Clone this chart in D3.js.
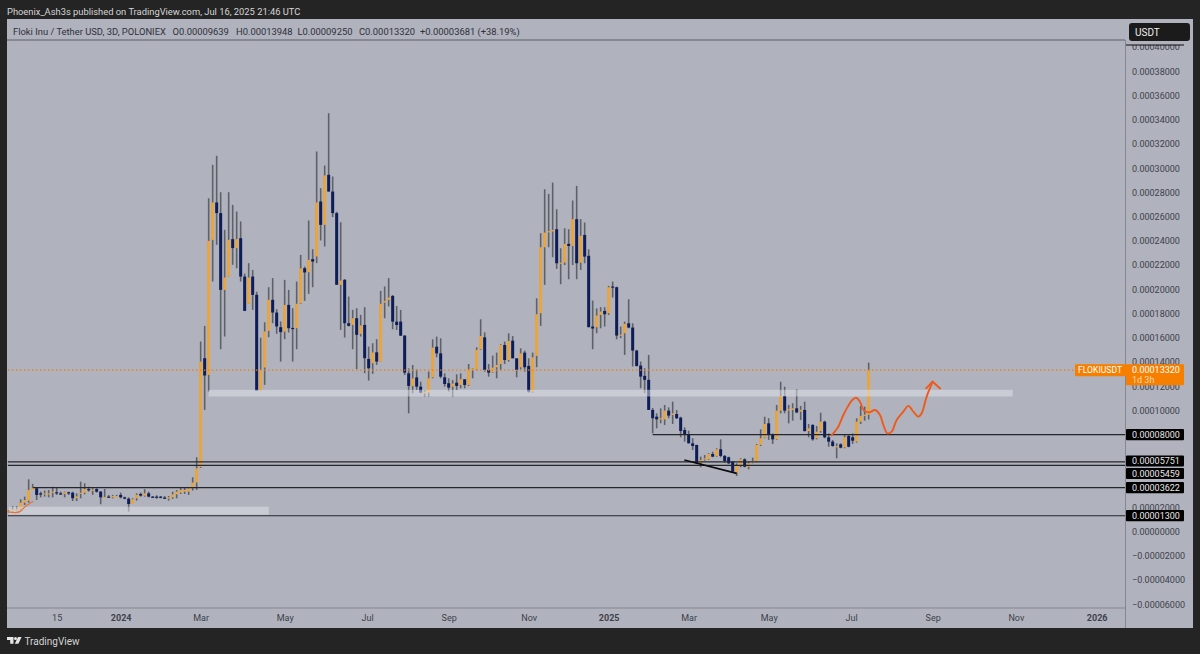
<!DOCTYPE html>
<html>
<head>
<meta charset="utf-8">
<script src="https://cdn.jsdelivr.net/npm/d3@7"></script>
<style>
  html, body { margin: 0; padding: 0; background: #242424; }
  svg { display: block; }
  text { font-family: Roboto, "Liberation Sans", Arial, sans-serif; }
</style>
</head>
<body>
<div id="chart"></div>
<script>
// prices are in units of 0.00001 USDT, one entry per 3D bar
var opens = [
  1.64,1.67,1.72,1.83,2.38,2.55,3.43,3.57,3.15,3.10,
  3.12,3.24,3.24,3.15,3.10,3.24,3.20,2.75,3.15,3.20,
  3.50,3.43,3.50,3.29,2.82,2.88,2.82,2.88,3.02,2.82,
  2.71,2.27,2.74,3.10,2.96,3.15,2.88,2.88,2.88,2.80,
  2.71,2.82,3.07,3.21,3.29,3.29,3.65,4.04,5.33,14.31,
  12.93,24.08,27.17,26.29,19.95,21.05,24.14,23.40,24.22,21.05,
  18.80,21.05,19.54,11.64,13.54,16.57,19.13,18.08,16.87,16.51,
  18.71,16.81,16.79,18.85,21.74,21.41,22.49,22.71,27.25,25.32,
  29.45,28.07,26.29,20.37,20.78,17.20,17.06,17.61,16.32,17.06,
  14.25,13.90,14.80,14.03,18.90,19.13,19.45,17.33,17.33,16.17,
  13.06,12.02,12.72,11.96,11.41,11.47,12.73,15.26,14.71,12.73,
  12.24,11.96,12.29,12.10,12.57,12.10,13.34,13.39,15.04,16.03,
  13.34,13.17,13.56,13.83,15.40,14.16,15.76,14.30,13.56,14.77,
  13.67,11.55,14.50,18.02,23.47,24.70,24.77,24.96,22.15,22.20,
  23.75,23.58,25.79,22.20,24.49,22.76,16.92,16.87,17.88,18.21,
  18.02,20.23,20.17,16.20,16.37,17.19,16.84,14.94,13.70,12.85,
  12.52,10.04,9.48,9.30,9.26,9.98,9.62,9.70,9.40,8.38,
  8.05,7.28,7.15,5.68,5.95,5.96,6.40,6.24,6.79,6.24,
  6.13,5.77,4.86,5.41,5.96,5.35,5.68,5.77,7.15,7.75,
  8.93,7.97,7.61,9.98,11.19,10.08,10.04,10.17,9.90,10.04,
  8.30,8.79,7.70,8.30,9.07,7.78,7.42,7.00,7.20,6.95,
  7.89,7.78,7.42,9.07,9.54,9.64
];
var closes = [
  1.72,1.83,1.83,2.38,2.60,3.43,3.65,3.02,3.07,3.15,
  3.15,3.29,3.15,3.10,3.24,3.15,2.75,2.90,3.20,3.50,
  3.40,3.46,3.29,2.82,2.85,2.82,2.93,2.93,2.82,2.71,
  2.27,2.66,3.02,2.96,3.15,2.88,2.82,2.82,2.80,2.77,
  2.82,3.07,3.29,3.43,3.43,3.57,4.04,5.22,14.03,12.88,
  24.00,27.17,26.29,19.95,20.97,24.08,23.40,24.14,21.05,18.22,
  20.97,19.54,11.64,13.35,16.51,19.13,18.08,16.93,16.46,18.71,
  16.79,16.76,18.80,21.72,21.39,22.43,22.29,27.17,25.32,29.40,
  28.07,26.29,20.37,20.72,17.20,16.98,17.61,16.24,17.01,14.31,
  13.48,14.78,14.03,18.80,19.04,19.32,17.33,17.05,16.17,13.12,
  12.02,12.65,11.96,11.47,11.55,12.65,15.18,14.71,12.79,12.18,
  11.88,12.21,12.02,12.57,12.10,13.39,13.47,14.99,16.14,13.34,
  13.12,13.53,13.75,15.40,14.16,15.73,14.30,13.34,14.71,13.56,
  11.55,14.38,17.94,23.47,24.68,24.80,24.90,22.15,22.20,23.75,
  23.58,25.79,22.15,24.41,22.70,16.87,16.76,17.83,18.16,17.94,
  20.17,20.14,16.18,16.25,17.14,16.84,14.94,13.67,12.79,12.52,
  10.04,9.35,9.26,9.35,9.98,9.57,9.75,9.35,8.30,7.97,
  7.28,7.06,5.63,5.90,6.05,6.40,6.18,6.79,6.24,5.82,
  5.63,4.94,5.41,5.96,5.35,5.63,5.82,7.15,7.70,8.88,
  7.97,7.61,9.98,11.19,9.98,10.10,10.17,9.84,10.04,8.30,
  8.52,7.61,8.24,9.07,7.78,7.42,7.06,7.05,6.92,7.78,
  7.00,7.50,9.07,9.54,9.64,13.32
];
var highs = [
  1.78,2.11,2.11,2.66,2.88,4.31,3.93,3.65,3.29,3.38,
  3.43,3.70,3.65,3.29,3.29,3.29,3.29,3.15,4.12,3.98,
  3.70,3.57,3.57,3.35,3.51,3.02,3.02,3.02,3.21,2.88,
  2.82,2.74,3.15,3.21,3.49,3.29,2.93,2.99,2.93,2.93,
  2.93,3.29,3.43,3.65,3.65,3.65,4.48,6.13,15.69,16.98,
  27.52,30.28,31.02,28.02,24.91,28.02,26.97,26.42,25.60,21.30,
  22.16,21.60,19.80,16.00,17.28,20.17,20.92,18.36,17.34,20.78,
  19.95,18.44,20.64,22.84,21.88,25.68,23.31,31.38,28.35,30.22,
  34.54,29.31,26.40,25.54,20.85,19.40,18.30,18.44,17.89,18.52,
  15.27,15.55,15.88,19.87,20.23,20.92,19.53,18.62,18.30,16.23,
  13.47,13.75,13.39,12.37,11.68,13.20,15.87,16.09,15.95,13.06,
  12.65,12.51,12.98,13.06,12.57,13.83,13.50,15.21,17.52,16.45,
  13.83,14.52,14.77,15.46,15.68,16.37,16.14,14.30,15.13,14.93,
  14.30,14.77,19.26,24.63,28.26,27.88,28.81,26.61,23.39,25.04,
  24.96,27.33,28.54,25.79,25.51,23.30,19.07,18.43,18.52,18.52,
  20.28,20.64,20.22,16.92,17.33,19.18,17.19,15.00,14.03,13.48,
  14.58,10.20,9.76,10.17,10.45,10.25,10.72,10.03,9.48,8.60,
  8.33,7.70,7.15,6.18,6.32,6.46,6.59,6.87,7.61,6.32,
  6.18,5.77,5.63,6.04,6.04,5.77,6.10,7.23,8.44,9.48,
  9.35,8.10,10.45,12.37,11.96,10.45,10.59,11.74,10.37,10.72,
  8.88,8.88,8.71,9.81,9.15,8.10,7.56,7.28,7.28,7.97,
  7.97,8.10,9.35,10.37,10.31,13.948
];
var lows = [
  1.56,1.64,1.72,1.70,2.19,2.38,3.43,2.60,2.82,2.88,
  2.82,2.82,3.02,3.02,2.82,3.02,2.52,2.52,2.74,3.07,
  3.29,3.02,3.21,2.25,2.82,2.82,2.74,2.88,2.74,2.66,
  1.64,2.27,2.55,2.88,2.88,2.82,2.77,2.71,2.74,2.71,
  2.55,2.69,2.74,3.10,3.10,3.02,3.38,3.43,5.25,10.04,
  11.56,20.64,23.67,15.05,16.10,21.05,22.02,21.74,20.64,18.20,
  18.80,18.30,11.64,11.64,12.11,16.04,17.20,16.32,14.03,15.88,
  16.43,14.03,15.05,18.80,19.04,19.62,20.17,22.16,24.03,23.53,
  28.07,25.96,20.37,16.65,16.02,16.93,15.05,13.40,16.10,13.07,
  12.46,13.02,13.76,14.03,17.61,18.58,16.70,16.64,16.15,12.92,
  9.76,11.41,11.68,11.41,11.13,11.13,12.65,14.38,12.65,11.96,
  11.55,11.13,11.68,11.82,11.82,12.02,12.65,13.34,14.99,13.20,
  12.79,13.12,12.65,13.34,13.83,14.03,14.30,12.73,13.39,13.20,
  11.47,11.47,13.56,16.98,20.36,23.47,22.65,21.68,20.42,22.00,
  20.83,22.00,20.83,21.60,22.15,16.87,15.05,16.37,16.78,16.92,
  17.88,19.32,15.87,15.96,14.58,16.78,13.62,13.62,11.83,11.42,
  10.04,8.10,8.52,8.93,8.80,9.35,8.88,9.29,7.78,7.42,
  7.28,6.73,5.63,5.30,5.85,5.90,6.13,6.18,6.13,5.68,
  5.57,4.86,4.58,5.30,5.30,5.13,5.63,5.71,7.06,7.70,
  7.56,7.23,7.56,9.76,9.76,8.93,9.15,9.76,9.20,8.24,
  7.78,7.50,7.61,8.16,7.70,7.00,7.00,6.04,6.87,6.87,
  6.95,7.23,7.34,8.88,9.15,9.25
];

// axis ticks (8, 6 and 4 sit behind the level tags, so they are left out)
var xTickBars = [12, 28, 48, 69, 89.6, 110, 130, 150, 170, 190, 210.6, 231, 251.8, 272];
var xTickLabels = ["15", "2024", "Mar", "May", "Jul", "Sep", "Nov", "2025", "Mar", "May", "Jul", "Sep", "Nov", "2026"];
var yTicks = [40, 38, 36, 34, 32, 30, 28, 26, 24, 22, 20, 18, 16, 14, 12, 10, 2, 0, -2, -4, -6];

// drawings: [bar, price]
var projectionPath = [[205.58,7.89],[207.17,8.52],[208.67,9.62],[209.67,10.25],[210.75,10.8],[211.83,11.05],
  [212.83,10.72],[213.83,9.98],[215.17,9.84],[216.58,10.03],[217.83,9.62],[218.67,8.8],[219.67,8.11],
  [220.75,8.25],[222,9.21],[223.67,9.9],[224.92,10.37],[226.17,9.9],[227.42,9.48],[228.25,9.76],
  [229.5,11.14],[231,12.37]];
var arrowHead = [[229.25,11.77],[231,12.37],[233,11.77]];
var earlyCurve = [[-0.33,1.64],[1.58,1.56],[2.83,1.64],[4.08,2.05],[5.33,2.33],[6.17,2.49]];
var trendLine = [[168.92,5.91],[182,4.8]];
var zones = [
  {bar0: 50, bar1: 251, top: 11.7, bottom: 11.15},
  {bar0: 0, bar1: 65, top: 2.05, bottom: 1.39}
];
var levelPrices = [8.0, 5.751, 5.459, 3.622, 1.3];
var levelStartBars = [161, -0.2, -0.2, 6, -0.2];
var levelTagY = [434.6, 461, 473.5, 487.6, 515.6];
var lastClose = 13.32;

var panelColor = "#b0b3bd";
var priceFmt = d3.format(".8f");

var svg = d3.select("#chart").append("svg")
  .attr("width", 1200)
  .attr("height", 654);

var x = d3.scaleLinear().domain([0, 215]).range([8.67, 868.67]);
var y = d3.scaleLinear().domain([0, 38]).range([531.5, 71.3]);

var lineGen = d3.line()
  .x(function(d){ return x(d[0]); })
  .y(function(d){ return y(d[1]); });

function drawFrame(){
  svg.append("rect").attr("x", 0).attr("y", 0).attr("width", 1200).attr("height", 654).attr("fill", "#242424");
  svg.append("rect").attr("x", 7).attr("y", 19).attr("width", 1186).attr("height", 609).attr("fill", panelColor);

  svg.append("text")
    .attr("x", 7).attr("y", 15)
    .attr("fill", "#d6d6d6").attr("font-size", 9.35)
    .text("Phoenix_Ash3s published on TradingView.com, Jul 16, 2025 21:46 UTC");
}

function drawCandles(){
  var bars = d3.range(opens.length);

  svg.append("g").selectAll("line")
    .data(bars).enter().append("line")
    .attr("x1", function(d){ return x(d); })
    .attr("x2", function(d){ return x(d); })
    .attr("y1", function(d){ return y(highs[d]); })
    .attr("y2", function(d){ return y(lows[d]); })
    .attr("stroke", "#5f6068")
    .attr("stroke-width", 1.6);

  svg.append("g").selectAll("rect")
    .data(bars).enter().append("rect")
    .attr("x", function(d){ return x(d) - 1.5; })
    .attr("width", 3)
    .attr("y", function(d){ return y(Math.max(opens[d], closes[d])); })
    .attr("height", function(d){ return Math.max(1.2, Math.abs(y(opens[d]) - y(closes[d]))); })
    .attr("fill", function(d){ return closes[d] >= opens[d] ? "#e9a540" : "#0d1d58"; });
}

function drawDrawings(){
  svg.append("g").selectAll("rect")
    .data(zones).enter().append("rect")
    .attr("x", function(d){ return x(d.bar0); })
    .attr("width", function(d){ return x(d.bar1) - x(d.bar0); })
    .attr("y", function(d){ return y(d.top); })
    .attr("height", function(d){ return y(d.bottom) - y(d.top); })
    .attr("fill", "#e4e6ee")
    .attr("fill-opacity", 0.5);

  svg.append("line")
    .attr("x1", 8).attr("x2", x(266.5))
    .attr("y1", y(lastClose)).attr("y2", y(lastClose))
    .attr("stroke", "#f57c00").attr("stroke-width", 1.2).attr("stroke-dasharray", "1.4 2.6");

  svg.append("g").selectAll("line")
    .data(levelPrices).enter().append("line")
    .attr("x1", function(d, i){ return x(levelStartBars[i]); })
    .attr("x2", 1126)
    .attr("y1", function(d){ return y(d); })
    .attr("y2", function(d){ return y(d); })
    .attr("stroke", "#26272c")
    .attr("stroke-width", 1.2);

  svg.append("path").attr("d", lineGen(trendLine))
    .attr("fill", "none").attr("stroke", "#0c0c0e").attr("stroke-width", 1.6);

  svg.append("path").attr("d", lineGen.curve(d3.curveCatmullRom)(projectionPath))
    .attr("fill", "none").attr("stroke", "#ee5a1b").attr("stroke-width", 1.9);
  svg.append("path").attr("d", lineGen.curve(d3.curveCatmullRom)(earlyCurve))
    .attr("fill", "none").attr("stroke", "#e8713c").attr("stroke-width", 1.2);
  svg.append("path").attr("d", lineGen.curve(d3.curveLinear)(arrowHead))
    .attr("fill", "none").attr("stroke", "#ee5a1b").attr("stroke-width", 1.9);
}

function drawAxes(){
  // price scale and time scale strips
  svg.append("rect").attr("x", 7).attr("y", 608).attr("width", 1119).attr("height", 20).attr("fill", panelColor);
  svg.append("rect").attr("x", 1126).attr("y", 19).attr("width", 67).attr("height", 609).attr("fill", panelColor);

  var yAxis = d3.axisRight(y).tickValues(yTicks).tickSize(0)
    .tickFormat(function(d){ return priceFmt(d * 1e-5); });
  var gy = svg.append("g").attr("transform", "translate(1126,0)").call(yAxis);
  gy.select(".domain").remove();
  gy.selectAll("text")
    .attr("x", 6)
    .attr("fill", "#3d3f4a")
    .attr("font-size", 9)
    .attr("font-family", "Roboto, 'Liberation Sans', Arial, sans-serif");

  var xAxis = d3.axisBottom(x).tickValues(xTickBars).tickSize(0)
    .tickFormat(function(d, i){ return xTickLabels[i]; });
  var gx = svg.append("g").attr("transform", "translate(0,608)").call(xAxis);
  gx.select(".domain").remove();
  gx.selectAll("text")
    .attr("y", 7)
    .attr("fill", "#3d3f4a")
    .attr("font-size", 9)
    .attr("font-weight", function(d, i){ return /^20/.test(xTickLabels[i]) ? "bold" : "normal"; })
    .attr("font-family", "Roboto, 'Liberation Sans', Arial, sans-serif");

  svg.append("line").attr("x1", 7).attr("x2", 1126).attr("y1", 608).attr("y2", 608)
    .attr("stroke", "#85868f");
  svg.append("line").attr("x1", 1125.5).attr("x2", 1125.5).attr("y1", 19).attr("y2", 628)
    .attr("stroke", "#85868f");
}

function drawLegend(){
  // header strip hides the clipped top label
  svg.append("rect").attr("x", 7).attr("y", 19).attr("width", 1186).attr("height", 21).attr("fill", panelColor);
  svg.append("rect").attr("x", 1126).attr("y", 40).attr("width", 67).attr("height", 5).attr("fill", panelColor);
  svg.append("line").attr("x1", 7).attr("x2", 1125).attr("y1", 40).attr("y2", 40)
    .attr("stroke", "#5f6068").attr("stroke-width", 1.2);
  svg.append("line").attr("x1", 1126).attr("x2", 1184).attr("y1", 45).attr("y2", 45)
    .attr("stroke", "#0c0c0e").attr("stroke-width", 1.1);

  var parts = [
    ["Floki Inu / Tether USD, 3D, POLONIEX", 13],
    ["O0.00009639", 172.5],
    ["H0.00013948", 236],
    ["L0.00009250", 297.5],
    ["C0.00013320", 359],
    ["+0.00003681 (+38.19%)", 420]
  ];
  svg.append("g").selectAll("text")
    .data(parts).enter().append("text")
    .attr("x", function(d){ return d[1]; })
    .attr("y", 34.5)
    .attr("fill", "#2e3039")
    .attr("font-size", 9.4)
    .text(function(d){ return d[0]; });

  svg.append("rect").attr("x", 1129).attr("y", 23).attr("width", 61).attr("height", 18).attr("rx", 3)
    .attr("fill", "#1b1b1c");
  svg.append("text").attr("x", 1135).attr("y", 35.5)
    .attr("fill", "#eeeeee").attr("font-size", 10).text("USDT");
}

function drawPriceTags(){
  // dark level tags on the price scale
  svg.append("g").selectAll("rect")
    .data(levelPrices).enter().append("rect")
    .attr("x", 1126).attr("width", 58)
    .attr("y", function(d, i){ return levelTagY[i] - 5.6; })
    .attr("height", 11.2)
    .attr("rx", 1)
    .attr("fill", "#000000");
  svg.append("g").selectAll("text")
    .data(levelPrices).enter().append("text")
    .attr("x", 1132)
    .attr("y", function(d, i){ return levelTagY[i]; })
    .attr("dy", "0.35em")
    .attr("fill", "#e8e8e8")
    .attr("font-size", 9)
    .text(function(d){ return priceFmt(d * 1e-5); });

  // last price tag
  svg.append("rect").attr("x", 1075).attr("y", y(lastClose) - 6).attr("width", 51).attr("height", 12).attr("rx", 1)
    .attr("fill", "#f77f00");
  svg.append("rect").attr("x", 1126).attr("y", y(lastClose) - 6).attr("width", 58).attr("height", 21).attr("rx", 1)
    .attr("fill", "#f77f00");
  svg.append("text").attr("x", 1078).attr("y", y(lastClose)).attr("dy", "0.35em")
    .attr("fill", "#ffffff").attr("font-size", 8.6).text("FLOKIUSDT");
  svg.append("text").attr("x", 1132).attr("y", y(lastClose)).attr("dy", "0.35em")
    .attr("fill", "#ffffff").attr("font-size", 9).text(priceFmt(lastClose * 1e-5));
  svg.append("text").attr("x", 1132).attr("y", y(lastClose) + 9.5).attr("dy", "0.35em")
    .attr("fill", "#fdd9ae").attr("font-size", 9).text("1d 3h");
}

function drawLogo(){
  var g = svg.append("g").attr("transform", "translate(7,637)").attr("fill", "#e6e6e6");
  g.append("path").attr("d", "M0 0H6.5V6.8H3.2V3H0Z");
  g.append("circle").attr("cx", 8.5).attr("cy", 1.5).attr("r", 1.5);
  g.append("path").attr("d", "M11 0H14.6L11.4 6.8H7.8Z");
  svg.append("text").attr("x", 24.5).attr("y", 645)
    .attr("fill", "#d4d4d4").attr("font-size", 10).text("TradingView");
}

drawFrame();
drawCandles();
drawDrawings();
drawAxes();
drawLegend();
drawPriceTags();
drawLogo();
</script>
</body>
</html>
